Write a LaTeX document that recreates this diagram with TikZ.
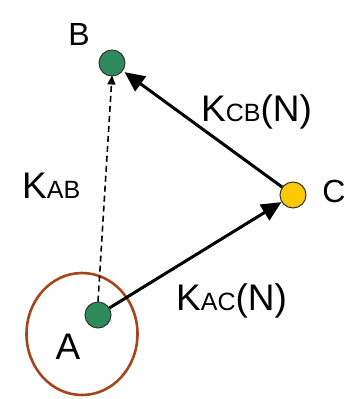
\documentclass[tikz,border=0pt]{standalone}
\usepackage{fontspec}
\setmainfont{Liberation Sans}
\usetikzlibrary{arrows.meta,shapes.geometric}
\definecolor{dotgreen}{HTML}{2E8B5C}
\definecolor{dotyellow}{HTML}{FFC800}
\definecolor{ringbrown}{HTML}{A4451C}
\definecolor{dotedge}{HTML}{333333}
\tikzset{
  dot/.style={circle,draw=dotedge,line width=1pt,minimum size=26pt,inner sep=0pt},
  lbl/.style={font=\fontsize{32}{32}\selectfont,inner sep=0pt},
  klbl/.style={font=\fontsize{37}{37}\selectfont,inner sep=0pt,anchor=base west},
  bigarrow/.style={line width=3pt,-{Triangle[length=20pt,width=18pt]}},
  dasharrow/.style={line width=1.6pt,dash pattern=on 6pt off 4pt,-{Triangle[length=9pt,width=8pt]}}
}
\newcommand{\smallpart}[1]{{\fontsize{25}{25}\selectfont #1}}
\begin{document}
\begin{tikzpicture}[x=1pt,y=-1pt]
\useasboundingbox (0,0) rectangle (351,399);
\node[draw=ringbrown,line width=2.6pt,ellipse,minimum width=111pt,minimum height=122pt,inner sep=0pt] (ring) at (82,334) {};
\node[dot,fill=dotgreen] (B) at (112,63) {};
\node[dot,fill=dotyellow] (C) at (293,195) {};
\node[dot,fill=dotgreen] (A) at (98,315) {};
\node[lbl] (Bl) at (79,34) {B};
\node[lbl] (Cl) at (334,191) {C};
\node[lbl,font=\fontsize{37}{37}\selectfont] (Al) at (68,347) {A};
\node[klbl] (kab) at (22,198) {K\smallpart{AB}};
\node[klbl] (kcb) at (201,121) {K\smallpart{CB}(N)};
\node[klbl] (kac) at (176,310) {K\smallpart{AC}(N)};
\draw[dasharrow] (A.north) -- ([yshift=1pt]B.south);
\draw[bigarrow] (A) -- (C);
\draw[bigarrow,shorten >=2pt] (C) -- (B);
\end{tikzpicture}
\end{document}
